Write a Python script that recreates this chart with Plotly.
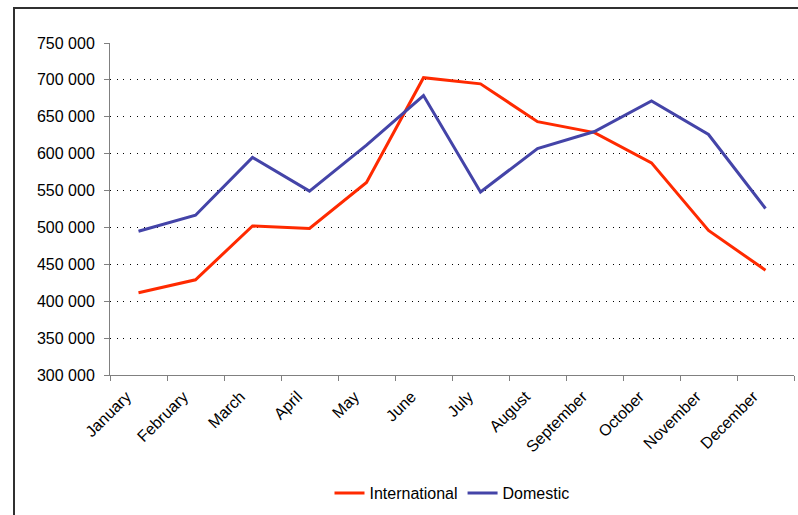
import plotly.graph_objects as go

months = ["January", "February", "March", "April", "May", "June", "July",
          "August", "September", "October", "November", "December"]
international = [411500, 429000, 502000, 498600, 561000, 703000, 694600,
                 643400, 628500, 587500, 496000, 442000]
domestic = [494800, 516600, 595000, 549300, 611500, 678700, 548000,
            607000, 630000, 671500, 626000, 525700]

L, R, T, B = 110, 4, 43, 140
W, H = 798, 515
pw = W - L - R
ph = H - T - B

fig = go.Figure()
fig.add_trace(go.Scatter(x=months, y=international, name="International",
                         mode="lines", line=dict(color="#FF2A00", width=3)))
fig.add_trace(go.Scatter(x=months, y=domestic, name="Domestic",
                         mode="lines", line=dict(color="#4444A8", width=3)))

font = dict(family="Liberation Sans, Arial, sans-serif", size=16, color="#000000")

# outer frame (left & top visible, rest cropped)
fig.add_shape(type="rect", xref="paper", yref="paper",
              x0=(14 - L) / pw, x1=(W + 20 - L) / pw,
              y0=(H - B - (H + 20)) / ph, y1=(H - B - 8) / ph,
              line=dict(color="#303030", width=2), fillcolor="rgba(0,0,0,0)",
              layer="below")

fig.update_layout(
    width=W, height=H,
    margin=dict(l=L, r=R, t=T, b=B, autoexpand=False),
    paper_bgcolor="white", plot_bgcolor="white",
    font=font,
    separators=". ",
    showlegend=True,
    legend=dict(orientation="h", x=0.5, xanchor="center",
                y=(H - B - 493) / ph, yanchor="middle",
                font=font, itemwidth=30, tracegroupgap=0,
                bgcolor="rgba(0,0,0,0)"),
    xaxis=dict(type="category", range=[-0.5, 11.5], tickson="boundaries",
               showgrid=False, showline=True, linecolor="#808080", linewidth=1,
               ticks="outside", ticklen=5, tickcolor="#808080",
               tickangle=-45, automargin=False, tickfont=font, fixedrange=True,
               ticklabelshift=-12, ticklabelstandoff=5),
    yaxis=dict(range=[300000, 750000], dtick=50000, tickformat=",d",
               showgrid=True, gridcolor="#000000", gridwidth=1,
               griddash="1px,5.7px",
               showline=True, linecolor="#808080", linewidth=1,
               ticks="outside", ticklen=5, tickcolor="#808080",
               zeroline=False, automargin=False, tickfont=font,
               ticklabelstandoff=6, fixedrange=True),
)

fig.write_html("out.html")
